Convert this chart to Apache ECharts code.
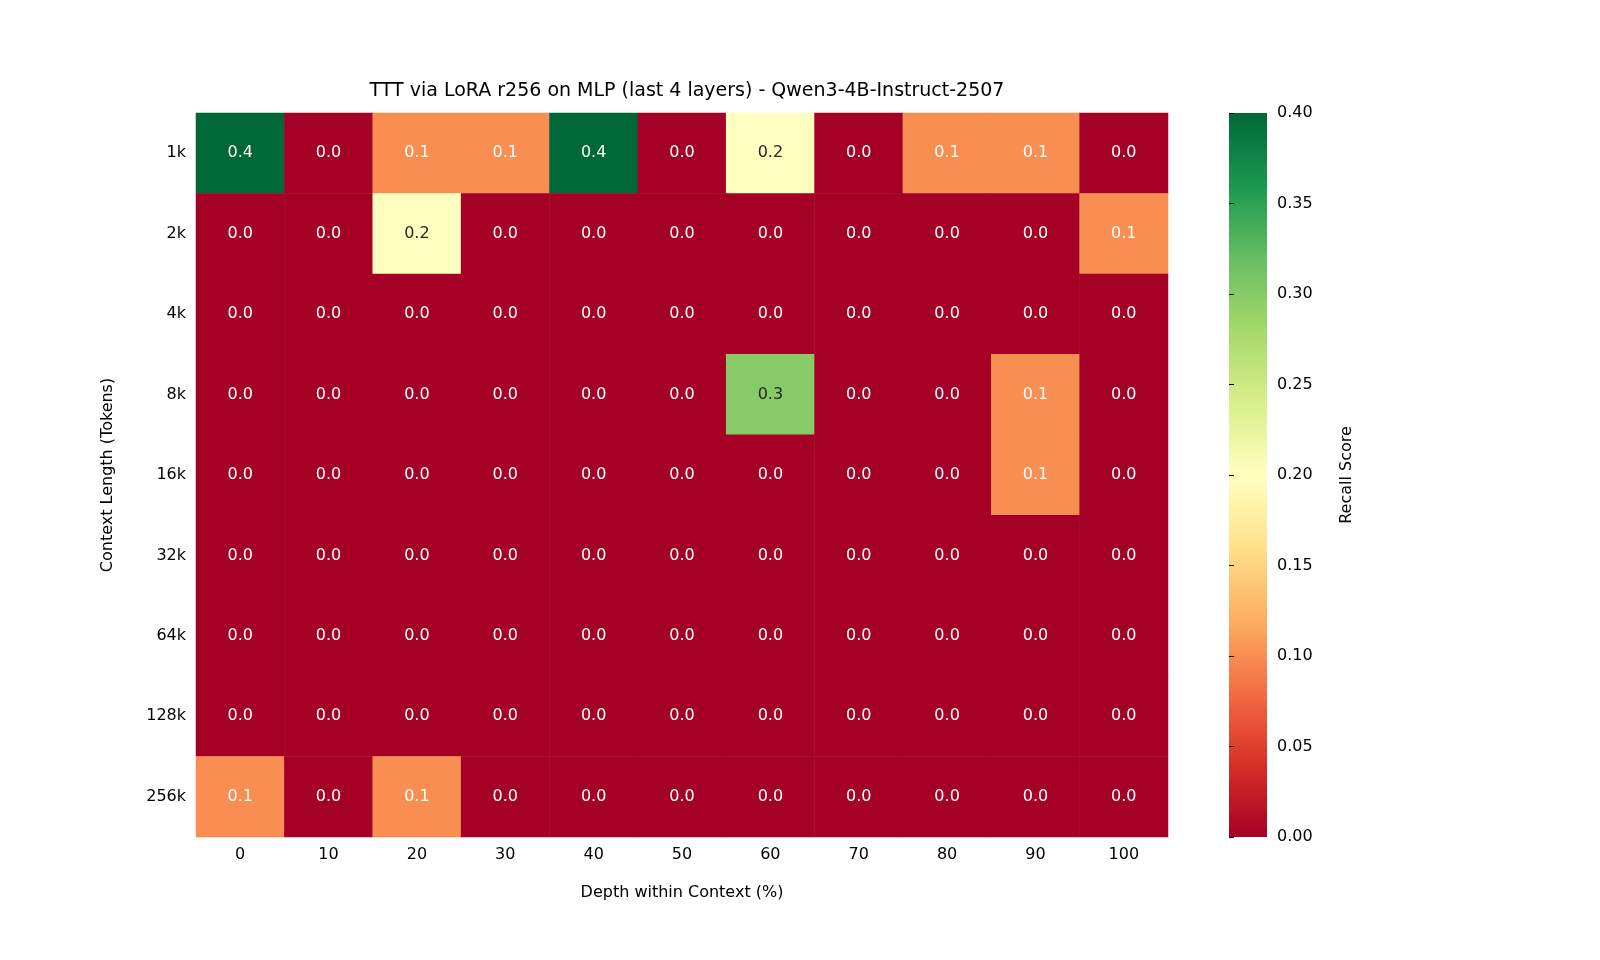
<!DOCTYPE html>
<html><head><meta charset="utf-8">
<script src="https://cdn.jsdelivr.net/npm/echarts@6/dist/echarts.min.js"></script>
<style>html,body{margin:0;background:#fff}#c{width:1600px;height:960px}</style>
</head><body><div id="c"></div>
<script>
const depths = ['0','10','20','30','40','50','60','70','80','90','100'];
const contexts = ['1k','2k','4k','8k','16k','32k','64k','128k','256k'];
const row1k   = [0.4,0,0.1,0.1,0.4,0,0.2,0,0.1,0.1,0];
const row2k   = [0,0,0.2,0,0,0,0,0,0,0,0.1];
const row4k   = [0,0,0,0,0,0,0,0,0,0,0];
const row8k   = [0,0,0,0,0,0,0.3,0,0,0.1,0];
const row16k  = [0,0,0,0,0,0,0,0,0,0.1,0];
const row32k  = [0,0,0,0,0,0,0,0,0,0,0];
const row64k  = [0,0,0,0,0,0,0,0,0,0,0];
const row128k = [0,0,0,0,0,0,0,0,0,0,0];
const row256k = [0.1,0,0.1,0,0,0,0,0,0,0,0];
const cbTicks = [0,0.05,0.1,0.15,0.2,0.25,0.3,0.35,0.4];
const rows = [row1k,row2k,row4k,row8k,row16k,row32k,row64k,row128k,row256k];
const cmap = ['#a50026','#d73027','#f46d43','#fdae61','#fee08b','#ffffbf','#d9ef8b','#a6d96a','#66bd63','#1a9850','#006837'];
const data = [];
rows.forEach((r,yi)=>r.forEach((v,xi)=>{
  data.push({value:[xi,yi,v],label:{color:(v>=0.15&&v<=0.33)?'#262626':'#ffffff'}});
}));
const font='DejaVu Sans';
const chart = echarts.init(document.getElementById('c'));
chart.setOption({
  textStyle:{fontFamily:font},
  title:{text:'TTT via LoRA r256 on MLP (last 4 layers) - Qwen3-4B-Instruct-2507',left:682,top:77,textAlign:'center',
    textStyle:{fontFamily:font,fontSize:19,fontWeight:'normal',color:'#000'}},
  grid:[{left:196,top:113,width:972,height:724},{left:1229,top:113,width:38,height:724}],
  xAxis:[{type:'category',data:depths,gridIndex:0,name:'Depth within Context (%)',nameLocation:'middle',nameGap:48,
    nameTextStyle:{fontSize:16,color:'#000',fontFamily:font},
    axisLine:{show:false},axisTick:{alignWithLabel:true,length:5,lineStyle:{color:'#000'}},
    axisLabel:{fontSize:16,color:'#000',margin:10},splitLine:{show:false}},
    {type:'value',gridIndex:1,show:false,min:0,max:1}],
  yAxis:[{type:'category',data:contexts,inverse:true,gridIndex:0,name:'Context Length (Tokens)',nameLocation:'middle',nameGap:80,
    nameTextStyle:{fontSize:16,color:'#000',fontFamily:font},
    axisLine:{show:false},axisTick:{alignWithLabel:true,length:5,lineStyle:{color:'#000'}},
    axisLabel:{fontSize:16,color:'#000',margin:10}},
    {type:'value',gridIndex:1,position:'right',min:0,max:0.4,interval:0.05,
     name:'Recall Score',nameLocation:'middle',nameGap:72,nameRotate:90,
     nameTextStyle:{fontSize:16,color:'#000',fontFamily:font},
     axisLine:{show:false},axisTick:{show:true,length:5,lineStyle:{color:'#000'}},
     axisLabel:{fontSize:16,color:'#000',margin:10,formatter:v=>v.toFixed(2)},splitLine:{show:false}}],
  visualMap:{show:false,min:0,max:0.4,dimension:2,seriesIndex:0,inRange:{color:cmap}},
  graphic:[{type:'rect',shape:{x:1229,y:113,width:38,height:724},z:-1,
    style:{fill:new echarts.graphic.LinearGradient(0,1,0,0,cmap.map((c,i)=>({offset:i/(cmap.length-1),color:c})))}}],
  series:[{type:'heatmap',xAxisIndex:0,yAxisIndex:0,data:data,
    label:{show:true,fontSize:16,fontFamily:font,formatter:p=>p.value[2].toFixed(1)},
    emphasis:{disabled:true}},
    {type:'scatter',xAxisIndex:1,yAxisIndex:1,data:[],silent:true}]
});
</script></body></html>
